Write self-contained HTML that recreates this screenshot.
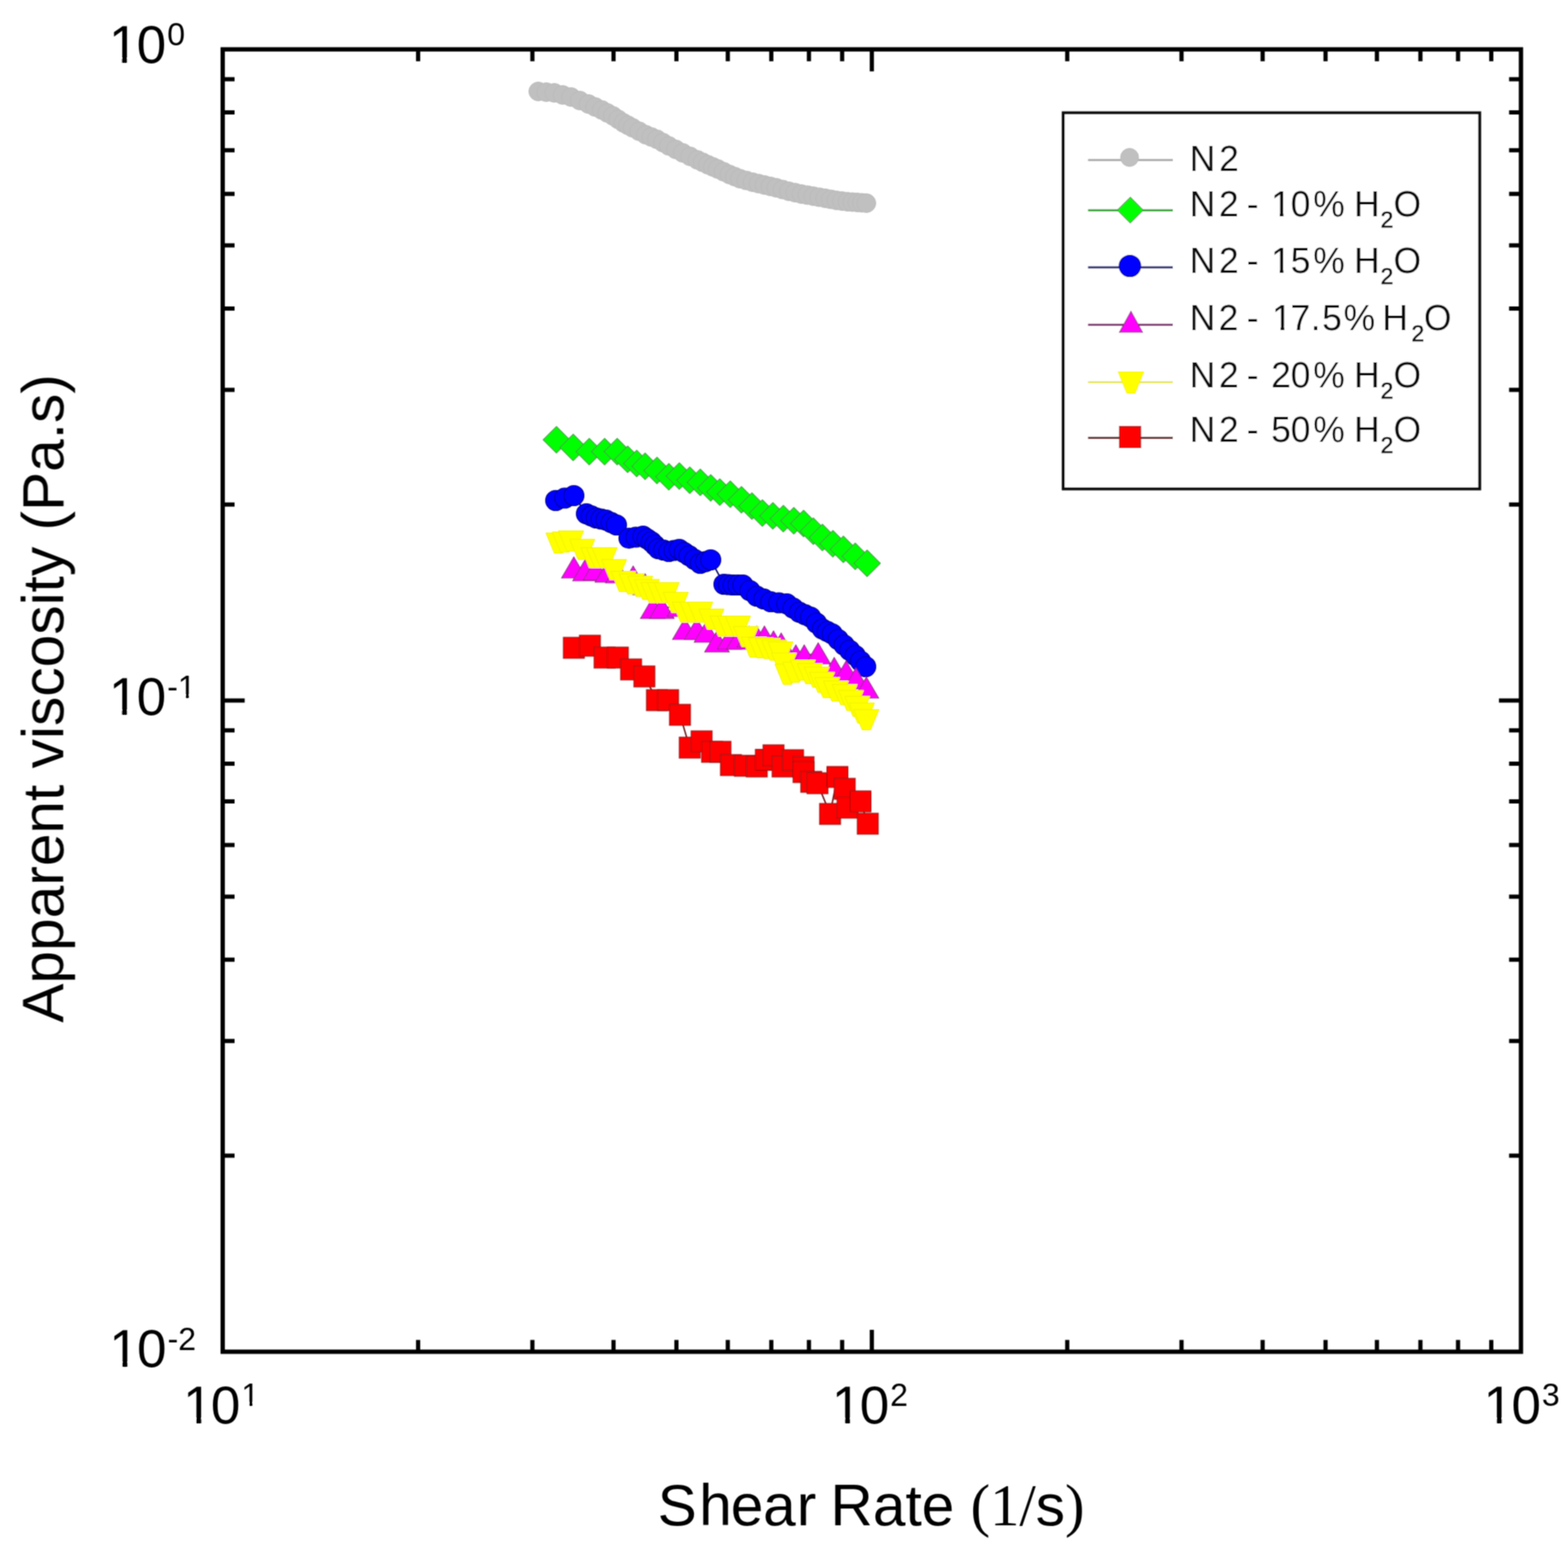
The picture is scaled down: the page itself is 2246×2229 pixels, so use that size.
<!DOCTYPE html>
<html><head><meta charset="utf-8"><title>Apparent viscosity vs Shear Rate</title>
<style>
html,body{margin:0;padding:0;background:#fff;}
body{width:2246px;height:2229px;overflow:hidden;}
svg{display:block;}
text{font-family:"Liberation Sans", Arial, Helvetica, sans-serif;fill:#000;}
.tk{font-size:76px;}
.lg{font-size:51px;fill:#111;}
.sub{font-size:33px;stroke:#111;stroke-width:0.7px;}
.ttl{font-size:84px;}
.serif{font-family:"Liberation Serif", "Times New Roman", serif;}
</style></head>
<body>
<svg width="2246" height="2229" viewBox="0 0 2246 2229" xmlns="http://www.w3.org/2000/svg">
<defs><filter id="soft" filterUnits="userSpaceOnUse" x="0" y="0" width="2246" height="2229"><feConvolveMatrix order="3" kernelMatrix="1 2 1 2 4 2 1 2 1" divisor="16" edgeMode="duplicate"/></filter></defs>
<rect width="2246" height="2229" fill="#fff"/>
<g filter="url(#soft)">
<g id="data">
<polyline points="771,131 782.5,132.0 794,133 806.0,136.0 818,139 830.5,144.0 843,149 852.5,153.2 862,157.5 870.0,161.8 878,166 885.5,171.0 893,176 899.5,179.5 906,183 915.5,188.0 925,193 933.0,196.2 941,199.5 949.5,204.2 958,209 968.0,214.0 978,219 988.5,224.0 999,229 1006.5,232.5 1014,236 1021.0,239.0 1028,242 1036.5,246.0 1045,250 1052.5,253.0 1060,256 1069.0,258.5 1078,261 1086.5,263.0 1095,265 1103.5,267.0 1112,269 1121.0,271.5 1130,274 1139.0,276.0 1148,278 1156.5,279.5 1165,281 1173.5,282.5 1182,284 1190.0,285.5 1198,287 1206.0,288.0 1214,289 1221.0,289.5 1228,290 1234.5,290.5 1241,291" fill="none" stroke="#b8b8b8" stroke-width="2"/>
<circle cx="771" cy="131" r="13.5" fill="#c0c0c0" stroke="#bababa" stroke-width="1"/>
<circle cx="782.5" cy="132.0" r="13.5" fill="#c0c0c0" stroke="#bababa" stroke-width="1"/>
<circle cx="794" cy="133" r="13.5" fill="#c0c0c0" stroke="#bababa" stroke-width="1"/>
<circle cx="806.0" cy="136.0" r="13.5" fill="#c0c0c0" stroke="#bababa" stroke-width="1"/>
<circle cx="818" cy="139" r="13.5" fill="#c0c0c0" stroke="#bababa" stroke-width="1"/>
<circle cx="830.5" cy="144.0" r="13.5" fill="#c0c0c0" stroke="#bababa" stroke-width="1"/>
<circle cx="843" cy="149" r="13.5" fill="#c0c0c0" stroke="#bababa" stroke-width="1"/>
<circle cx="852.5" cy="153.2" r="13.5" fill="#c0c0c0" stroke="#bababa" stroke-width="1"/>
<circle cx="862" cy="157.5" r="13.5" fill="#c0c0c0" stroke="#bababa" stroke-width="1"/>
<circle cx="870.0" cy="161.8" r="13.5" fill="#c0c0c0" stroke="#bababa" stroke-width="1"/>
<circle cx="878" cy="166" r="13.5" fill="#c0c0c0" stroke="#bababa" stroke-width="1"/>
<circle cx="885.5" cy="171.0" r="13.5" fill="#c0c0c0" stroke="#bababa" stroke-width="1"/>
<circle cx="893" cy="176" r="13.5" fill="#c0c0c0" stroke="#bababa" stroke-width="1"/>
<circle cx="899.5" cy="179.5" r="13.5" fill="#c0c0c0" stroke="#bababa" stroke-width="1"/>
<circle cx="906" cy="183" r="13.5" fill="#c0c0c0" stroke="#bababa" stroke-width="1"/>
<circle cx="915.5" cy="188.0" r="13.5" fill="#c0c0c0" stroke="#bababa" stroke-width="1"/>
<circle cx="925" cy="193" r="13.5" fill="#c0c0c0" stroke="#bababa" stroke-width="1"/>
<circle cx="933.0" cy="196.2" r="13.5" fill="#c0c0c0" stroke="#bababa" stroke-width="1"/>
<circle cx="941" cy="199.5" r="13.5" fill="#c0c0c0" stroke="#bababa" stroke-width="1"/>
<circle cx="949.5" cy="204.2" r="13.5" fill="#c0c0c0" stroke="#bababa" stroke-width="1"/>
<circle cx="958" cy="209" r="13.5" fill="#c0c0c0" stroke="#bababa" stroke-width="1"/>
<circle cx="968.0" cy="214.0" r="13.5" fill="#c0c0c0" stroke="#bababa" stroke-width="1"/>
<circle cx="978" cy="219" r="13.5" fill="#c0c0c0" stroke="#bababa" stroke-width="1"/>
<circle cx="988.5" cy="224.0" r="13.5" fill="#c0c0c0" stroke="#bababa" stroke-width="1"/>
<circle cx="999" cy="229" r="13.5" fill="#c0c0c0" stroke="#bababa" stroke-width="1"/>
<circle cx="1006.5" cy="232.5" r="13.5" fill="#c0c0c0" stroke="#bababa" stroke-width="1"/>
<circle cx="1014" cy="236" r="13.5" fill="#c0c0c0" stroke="#bababa" stroke-width="1"/>
<circle cx="1021.0" cy="239.0" r="13.5" fill="#c0c0c0" stroke="#bababa" stroke-width="1"/>
<circle cx="1028" cy="242" r="13.5" fill="#c0c0c0" stroke="#bababa" stroke-width="1"/>
<circle cx="1036.5" cy="246.0" r="13.5" fill="#c0c0c0" stroke="#bababa" stroke-width="1"/>
<circle cx="1045" cy="250" r="13.5" fill="#c0c0c0" stroke="#bababa" stroke-width="1"/>
<circle cx="1052.5" cy="253.0" r="13.5" fill="#c0c0c0" stroke="#bababa" stroke-width="1"/>
<circle cx="1060" cy="256" r="13.5" fill="#c0c0c0" stroke="#bababa" stroke-width="1"/>
<circle cx="1069.0" cy="258.5" r="13.5" fill="#c0c0c0" stroke="#bababa" stroke-width="1"/>
<circle cx="1078" cy="261" r="13.5" fill="#c0c0c0" stroke="#bababa" stroke-width="1"/>
<circle cx="1086.5" cy="263.0" r="13.5" fill="#c0c0c0" stroke="#bababa" stroke-width="1"/>
<circle cx="1095" cy="265" r="13.5" fill="#c0c0c0" stroke="#bababa" stroke-width="1"/>
<circle cx="1103.5" cy="267.0" r="13.5" fill="#c0c0c0" stroke="#bababa" stroke-width="1"/>
<circle cx="1112" cy="269" r="13.5" fill="#c0c0c0" stroke="#bababa" stroke-width="1"/>
<circle cx="1121.0" cy="271.5" r="13.5" fill="#c0c0c0" stroke="#bababa" stroke-width="1"/>
<circle cx="1130" cy="274" r="13.5" fill="#c0c0c0" stroke="#bababa" stroke-width="1"/>
<circle cx="1139.0" cy="276.0" r="13.5" fill="#c0c0c0" stroke="#bababa" stroke-width="1"/>
<circle cx="1148" cy="278" r="13.5" fill="#c0c0c0" stroke="#bababa" stroke-width="1"/>
<circle cx="1156.5" cy="279.5" r="13.5" fill="#c0c0c0" stroke="#bababa" stroke-width="1"/>
<circle cx="1165" cy="281" r="13.5" fill="#c0c0c0" stroke="#bababa" stroke-width="1"/>
<circle cx="1173.5" cy="282.5" r="13.5" fill="#c0c0c0" stroke="#bababa" stroke-width="1"/>
<circle cx="1182" cy="284" r="13.5" fill="#c0c0c0" stroke="#bababa" stroke-width="1"/>
<circle cx="1190.0" cy="285.5" r="13.5" fill="#c0c0c0" stroke="#bababa" stroke-width="1"/>
<circle cx="1198" cy="287" r="13.5" fill="#c0c0c0" stroke="#bababa" stroke-width="1"/>
<circle cx="1206.0" cy="288.0" r="13.5" fill="#c0c0c0" stroke="#bababa" stroke-width="1"/>
<circle cx="1214" cy="289" r="13.5" fill="#c0c0c0" stroke="#bababa" stroke-width="1"/>
<circle cx="1221.0" cy="289.5" r="13.5" fill="#c0c0c0" stroke="#bababa" stroke-width="1"/>
<circle cx="1228" cy="290" r="13.5" fill="#c0c0c0" stroke="#bababa" stroke-width="1"/>
<circle cx="1234.5" cy="290.5" r="13.5" fill="#c0c0c0" stroke="#bababa" stroke-width="1"/>
<circle cx="1241" cy="291" r="13.5" fill="#c0c0c0" stroke="#bababa" stroke-width="1"/>
<polyline points="797,630 821,641 844,647 866,647 884,647 899,658 912,664 924,668 941,674 958,683 973,682 988,688 1003,691 1018,699 1031,705 1046,708 1062,716 1077,725 1092,735 1107,739 1122,743 1137,746 1151,750 1165,761 1178,770 1193,779 1208,787 1225,797 1242,807" fill="none" stroke="#2e9a2e" stroke-width="2"/>
<path d="M797 611L816 630L797 649L778 630Z" fill="#00ff00" stroke="#3c9a3c" stroke-width="1.2"/>
<path d="M821 622L840 641L821 660L802 641Z" fill="#00ff00" stroke="#3c9a3c" stroke-width="1.2"/>
<path d="M844 628L863 647L844 666L825 647Z" fill="#00ff00" stroke="#3c9a3c" stroke-width="1.2"/>
<path d="M866 628L885 647L866 666L847 647Z" fill="#00ff00" stroke="#3c9a3c" stroke-width="1.2"/>
<path d="M884 628L903 647L884 666L865 647Z" fill="#00ff00" stroke="#3c9a3c" stroke-width="1.2"/>
<path d="M899 639L918 658L899 677L880 658Z" fill="#00ff00" stroke="#3c9a3c" stroke-width="1.2"/>
<path d="M912 645L931 664L912 683L893 664Z" fill="#00ff00" stroke="#3c9a3c" stroke-width="1.2"/>
<path d="M924 649L943 668L924 687L905 668Z" fill="#00ff00" stroke="#3c9a3c" stroke-width="1.2"/>
<path d="M941 655L960 674L941 693L922 674Z" fill="#00ff00" stroke="#3c9a3c" stroke-width="1.2"/>
<path d="M958 664L977 683L958 702L939 683Z" fill="#00ff00" stroke="#3c9a3c" stroke-width="1.2"/>
<path d="M973 663L992 682L973 701L954 682Z" fill="#00ff00" stroke="#3c9a3c" stroke-width="1.2"/>
<path d="M988 669L1007 688L988 707L969 688Z" fill="#00ff00" stroke="#3c9a3c" stroke-width="1.2"/>
<path d="M1003 672L1022 691L1003 710L984 691Z" fill="#00ff00" stroke="#3c9a3c" stroke-width="1.2"/>
<path d="M1018 680L1037 699L1018 718L999 699Z" fill="#00ff00" stroke="#3c9a3c" stroke-width="1.2"/>
<path d="M1031 686L1050 705L1031 724L1012 705Z" fill="#00ff00" stroke="#3c9a3c" stroke-width="1.2"/>
<path d="M1046 689L1065 708L1046 727L1027 708Z" fill="#00ff00" stroke="#3c9a3c" stroke-width="1.2"/>
<path d="M1062 697L1081 716L1062 735L1043 716Z" fill="#00ff00" stroke="#3c9a3c" stroke-width="1.2"/>
<path d="M1077 706L1096 725L1077 744L1058 725Z" fill="#00ff00" stroke="#3c9a3c" stroke-width="1.2"/>
<path d="M1092 716L1111 735L1092 754L1073 735Z" fill="#00ff00" stroke="#3c9a3c" stroke-width="1.2"/>
<path d="M1107 720L1126 739L1107 758L1088 739Z" fill="#00ff00" stroke="#3c9a3c" stroke-width="1.2"/>
<path d="M1122 724L1141 743L1122 762L1103 743Z" fill="#00ff00" stroke="#3c9a3c" stroke-width="1.2"/>
<path d="M1137 727L1156 746L1137 765L1118 746Z" fill="#00ff00" stroke="#3c9a3c" stroke-width="1.2"/>
<path d="M1151 731L1170 750L1151 769L1132 750Z" fill="#00ff00" stroke="#3c9a3c" stroke-width="1.2"/>
<path d="M1165 742L1184 761L1165 780L1146 761Z" fill="#00ff00" stroke="#3c9a3c" stroke-width="1.2"/>
<path d="M1178 751L1197 770L1178 789L1159 770Z" fill="#00ff00" stroke="#3c9a3c" stroke-width="1.2"/>
<path d="M1193 760L1212 779L1193 798L1174 779Z" fill="#00ff00" stroke="#3c9a3c" stroke-width="1.2"/>
<path d="M1208 768L1227 787L1208 806L1189 787Z" fill="#00ff00" stroke="#3c9a3c" stroke-width="1.2"/>
<path d="M1225 778L1244 797L1225 816L1206 797Z" fill="#00ff00" stroke="#3c9a3c" stroke-width="1.2"/>
<path d="M1242 788L1261 807L1242 826L1223 807Z" fill="#00ff00" stroke="#3c9a3c" stroke-width="1.2"/>
<polyline points="796,717 809.0,713.5 822,710 840,736 847.0,739.0 854,742 861.0,743.5 868,745 875.5,748.5 883,752 901,771 911.0,769.5 921,768 927.0,772.0 933,776 938.0,781.0 943,786 950.5,788.0 958,790 965.5,788.5 973,787 980.0,791.5 987,796 995.0,801.5 1003,807 1010.5,804.5 1018,802 1037,837 1043.5,837.5 1050,838 1057.0,838.0 1064,838 1074.0,846.0 1084,854 1094.0,858.0 1104,862 1115.5,863.5 1127,865 1136.0,871.0 1145,877 1153.0,880.5 1161,884 1169.5,892.5 1178,901 1185.0,904.5 1192,908 1200.5,916.0 1209,924 1217.0,931.5 1225,939 1232.5,947.0 1240,955" fill="none" stroke="#00006a" stroke-width="2"/>
<circle cx="796" cy="717" r="14.5" fill="#0000ff" stroke="#000080" stroke-width="1.2"/>
<circle cx="809.0" cy="713.5" r="14.5" fill="#0000ff" stroke="#000080" stroke-width="1.2"/>
<circle cx="822" cy="710" r="14.5" fill="#0000ff" stroke="#000080" stroke-width="1.2"/>
<circle cx="840" cy="736" r="14.5" fill="#0000ff" stroke="#000080" stroke-width="1.2"/>
<circle cx="847.0" cy="739.0" r="14.5" fill="#0000ff" stroke="#000080" stroke-width="1.2"/>
<circle cx="854" cy="742" r="14.5" fill="#0000ff" stroke="#000080" stroke-width="1.2"/>
<circle cx="861.0" cy="743.5" r="14.5" fill="#0000ff" stroke="#000080" stroke-width="1.2"/>
<circle cx="868" cy="745" r="14.5" fill="#0000ff" stroke="#000080" stroke-width="1.2"/>
<circle cx="875.5" cy="748.5" r="14.5" fill="#0000ff" stroke="#000080" stroke-width="1.2"/>
<circle cx="883" cy="752" r="14.5" fill="#0000ff" stroke="#000080" stroke-width="1.2"/>
<circle cx="901" cy="771" r="14.5" fill="#0000ff" stroke="#000080" stroke-width="1.2"/>
<circle cx="911.0" cy="769.5" r="14.5" fill="#0000ff" stroke="#000080" stroke-width="1.2"/>
<circle cx="921" cy="768" r="14.5" fill="#0000ff" stroke="#000080" stroke-width="1.2"/>
<circle cx="927.0" cy="772.0" r="14.5" fill="#0000ff" stroke="#000080" stroke-width="1.2"/>
<circle cx="933" cy="776" r="14.5" fill="#0000ff" stroke="#000080" stroke-width="1.2"/>
<circle cx="938.0" cy="781.0" r="14.5" fill="#0000ff" stroke="#000080" stroke-width="1.2"/>
<circle cx="943" cy="786" r="14.5" fill="#0000ff" stroke="#000080" stroke-width="1.2"/>
<circle cx="950.5" cy="788.0" r="14.5" fill="#0000ff" stroke="#000080" stroke-width="1.2"/>
<circle cx="958" cy="790" r="14.5" fill="#0000ff" stroke="#000080" stroke-width="1.2"/>
<circle cx="965.5" cy="788.5" r="14.5" fill="#0000ff" stroke="#000080" stroke-width="1.2"/>
<circle cx="973" cy="787" r="14.5" fill="#0000ff" stroke="#000080" stroke-width="1.2"/>
<circle cx="980.0" cy="791.5" r="14.5" fill="#0000ff" stroke="#000080" stroke-width="1.2"/>
<circle cx="987" cy="796" r="14.5" fill="#0000ff" stroke="#000080" stroke-width="1.2"/>
<circle cx="995.0" cy="801.5" r="14.5" fill="#0000ff" stroke="#000080" stroke-width="1.2"/>
<circle cx="1003" cy="807" r="14.5" fill="#0000ff" stroke="#000080" stroke-width="1.2"/>
<circle cx="1010.5" cy="804.5" r="14.5" fill="#0000ff" stroke="#000080" stroke-width="1.2"/>
<circle cx="1018" cy="802" r="14.5" fill="#0000ff" stroke="#000080" stroke-width="1.2"/>
<circle cx="1037" cy="837" r="14.5" fill="#0000ff" stroke="#000080" stroke-width="1.2"/>
<circle cx="1043.5" cy="837.5" r="14.5" fill="#0000ff" stroke="#000080" stroke-width="1.2"/>
<circle cx="1050" cy="838" r="14.5" fill="#0000ff" stroke="#000080" stroke-width="1.2"/>
<circle cx="1057.0" cy="838.0" r="14.5" fill="#0000ff" stroke="#000080" stroke-width="1.2"/>
<circle cx="1064" cy="838" r="14.5" fill="#0000ff" stroke="#000080" stroke-width="1.2"/>
<circle cx="1074.0" cy="846.0" r="14.5" fill="#0000ff" stroke="#000080" stroke-width="1.2"/>
<circle cx="1084" cy="854" r="14.5" fill="#0000ff" stroke="#000080" stroke-width="1.2"/>
<circle cx="1094.0" cy="858.0" r="14.5" fill="#0000ff" stroke="#000080" stroke-width="1.2"/>
<circle cx="1104" cy="862" r="14.5" fill="#0000ff" stroke="#000080" stroke-width="1.2"/>
<circle cx="1115.5" cy="863.5" r="14.5" fill="#0000ff" stroke="#000080" stroke-width="1.2"/>
<circle cx="1127" cy="865" r="14.5" fill="#0000ff" stroke="#000080" stroke-width="1.2"/>
<circle cx="1136.0" cy="871.0" r="14.5" fill="#0000ff" stroke="#000080" stroke-width="1.2"/>
<circle cx="1145" cy="877" r="14.5" fill="#0000ff" stroke="#000080" stroke-width="1.2"/>
<circle cx="1153.0" cy="880.5" r="14.5" fill="#0000ff" stroke="#000080" stroke-width="1.2"/>
<circle cx="1161" cy="884" r="14.5" fill="#0000ff" stroke="#000080" stroke-width="1.2"/>
<circle cx="1169.5" cy="892.5" r="14.5" fill="#0000ff" stroke="#000080" stroke-width="1.2"/>
<circle cx="1178" cy="901" r="14.5" fill="#0000ff" stroke="#000080" stroke-width="1.2"/>
<circle cx="1185.0" cy="904.5" r="14.5" fill="#0000ff" stroke="#000080" stroke-width="1.2"/>
<circle cx="1192" cy="908" r="14.5" fill="#0000ff" stroke="#000080" stroke-width="1.2"/>
<circle cx="1200.5" cy="916.0" r="14.5" fill="#0000ff" stroke="#000080" stroke-width="1.2"/>
<circle cx="1209" cy="924" r="14.5" fill="#0000ff" stroke="#000080" stroke-width="1.2"/>
<circle cx="1217.0" cy="931.5" r="14.5" fill="#0000ff" stroke="#000080" stroke-width="1.2"/>
<circle cx="1225" cy="939" r="14.5" fill="#0000ff" stroke="#000080" stroke-width="1.2"/>
<circle cx="1232.5" cy="947.0" r="14.5" fill="#0000ff" stroke="#000080" stroke-width="1.2"/>
<circle cx="1240" cy="955" r="14.5" fill="#0000ff" stroke="#000080" stroke-width="1.2"/>
<polyline points="822,813 838,817 853,816 870,819 885,820 907,826 924,837 935,871 948,871 973,868 981,901 998,901 1012,905 1027,919 1045,915 1058,915 1073,912 1084,912 1095,912 1108,919 1119,922 1140,939 1152,939 1172,936 1195,957 1212,962 1226,972 1241,985" fill="none" stroke="#7a2a6a" stroke-width="2"/>
<path d="M822 798.0L839.5 828.0L804.5 828.0Z" fill="#ff00ff" stroke="#8a2a7a" stroke-width="1.2"/>
<path d="M838 802.0L855.5 832.0L820.5 832.0Z" fill="#ff00ff" stroke="#8a2a7a" stroke-width="1.2"/>
<path d="M853 801.0L870.5 831.0L835.5 831.0Z" fill="#ff00ff" stroke="#8a2a7a" stroke-width="1.2"/>
<path d="M870 804.0L887.5 834.0L852.5 834.0Z" fill="#ff00ff" stroke="#8a2a7a" stroke-width="1.2"/>
<path d="M885 805.0L902.5 835.0L867.5 835.0Z" fill="#ff00ff" stroke="#8a2a7a" stroke-width="1.2"/>
<path d="M907 811.0L924.5 841.0L889.5 841.0Z" fill="#ff00ff" stroke="#8a2a7a" stroke-width="1.2"/>
<path d="M924 822.0L941.5 852.0L906.5 852.0Z" fill="#ff00ff" stroke="#8a2a7a" stroke-width="1.2"/>
<path d="M935 856.0L952.5 886.0L917.5 886.0Z" fill="#ff00ff" stroke="#8a2a7a" stroke-width="1.2"/>
<path d="M948 856.0L965.5 886.0L930.5 886.0Z" fill="#ff00ff" stroke="#8a2a7a" stroke-width="1.2"/>
<path d="M973 853.0L990.5 883.0L955.5 883.0Z" fill="#ff00ff" stroke="#8a2a7a" stroke-width="1.2"/>
<path d="M981 886.0L998.5 916.0L963.5 916.0Z" fill="#ff00ff" stroke="#8a2a7a" stroke-width="1.2"/>
<path d="M998 886.0L1015.5 916.0L980.5 916.0Z" fill="#ff00ff" stroke="#8a2a7a" stroke-width="1.2"/>
<path d="M1012 890.0L1029.5 920.0L994.5 920.0Z" fill="#ff00ff" stroke="#8a2a7a" stroke-width="1.2"/>
<path d="M1027 904.0L1044.5 934.0L1009.5 934.0Z" fill="#ff00ff" stroke="#8a2a7a" stroke-width="1.2"/>
<path d="M1045 900.0L1062.5 930.0L1027.5 930.0Z" fill="#ff00ff" stroke="#8a2a7a" stroke-width="1.2"/>
<path d="M1058 900.0L1075.5 930.0L1040.5 930.0Z" fill="#ff00ff" stroke="#8a2a7a" stroke-width="1.2"/>
<path d="M1073 897.0L1090.5 927.0L1055.5 927.0Z" fill="#ff00ff" stroke="#8a2a7a" stroke-width="1.2"/>
<path d="M1084 897.0L1101.5 927.0L1066.5 927.0Z" fill="#ff00ff" stroke="#8a2a7a" stroke-width="1.2"/>
<path d="M1095 897.0L1112.5 927.0L1077.5 927.0Z" fill="#ff00ff" stroke="#8a2a7a" stroke-width="1.2"/>
<path d="M1108 904.0L1125.5 934.0L1090.5 934.0Z" fill="#ff00ff" stroke="#8a2a7a" stroke-width="1.2"/>
<path d="M1119 907.0L1136.5 937.0L1101.5 937.0Z" fill="#ff00ff" stroke="#8a2a7a" stroke-width="1.2"/>
<path d="M1140 924.0L1157.5 954.0L1122.5 954.0Z" fill="#ff00ff" stroke="#8a2a7a" stroke-width="1.2"/>
<path d="M1152 924.0L1169.5 954.0L1134.5 954.0Z" fill="#ff00ff" stroke="#8a2a7a" stroke-width="1.2"/>
<path d="M1172 921.0L1189.5 951.0L1154.5 951.0Z" fill="#ff00ff" stroke="#8a2a7a" stroke-width="1.2"/>
<path d="M1195 942.0L1212.5 972.0L1177.5 972.0Z" fill="#ff00ff" stroke="#8a2a7a" stroke-width="1.2"/>
<path d="M1212 947.0L1229.5 977.0L1194.5 977.0Z" fill="#ff00ff" stroke="#8a2a7a" stroke-width="1.2"/>
<path d="M1226 957.0L1243.5 987.0L1208.5 987.0Z" fill="#ff00ff" stroke="#8a2a7a" stroke-width="1.2"/>
<path d="M1241 970.0L1258.5 1000.0L1223.5 1000.0Z" fill="#ff00ff" stroke="#8a2a7a" stroke-width="1.2"/>
<polyline points="800,778 809.0,776.5 818,775 834.0,787.0 850,799 858.0,799.0 866,799 879.5,816.0 893,833 905.0,836.5 917,840 926.5,844.5 936,849 945.5,849.0 955,849 968.0,863.0 981,877 992.0,877.0 1003,877 1019.0,887.0 1035,897 1046.0,897.0 1057,897 1068.5,912.0 1080,927 1090.0,928.0 1100,929 1109.0,931.5 1118,934 1123.0,950.0 1128,966 1139.0,963.0 1150,960 1160.0,965.0 1170,970 1177.5,977.5 1185,985 1197.5,990.0 1210,995 1219.0,1003.5 1228,1012 1234.5,1021.5 1241,1031" fill="none" stroke="#d8d800" stroke-width="2"/>
<path d="M782.0 763.5L818.0 763.5L806.0 792.5L794.0 792.5Z" fill="#ffff00" stroke="#f0f000" stroke-width="1"/>
<path d="M791.0 762.0L827.0 762.0L815.0 791.0L803.0 791.0Z" fill="#ffff00" stroke="#f0f000" stroke-width="1"/>
<path d="M800.0 760.5L836.0 760.5L824.0 789.5L812.0 789.5Z" fill="#ffff00" stroke="#f0f000" stroke-width="1"/>
<path d="M816.0 772.5L852.0 772.5L840.0 801.5L828.0 801.5Z" fill="#ffff00" stroke="#f0f000" stroke-width="1"/>
<path d="M832.0 784.5L868.0 784.5L856.0 813.5L844.0 813.5Z" fill="#ffff00" stroke="#f0f000" stroke-width="1"/>
<path d="M840.0 784.5L876.0 784.5L864.0 813.5L852.0 813.5Z" fill="#ffff00" stroke="#f0f000" stroke-width="1"/>
<path d="M848.0 784.5L884.0 784.5L872.0 813.5L860.0 813.5Z" fill="#ffff00" stroke="#f0f000" stroke-width="1"/>
<path d="M861.5 801.5L897.5 801.5L885.5 830.5L873.5 830.5Z" fill="#ffff00" stroke="#f0f000" stroke-width="1"/>
<path d="M875.0 818.5L911.0 818.5L899.0 847.5L887.0 847.5Z" fill="#ffff00" stroke="#f0f000" stroke-width="1"/>
<path d="M887.0 822.0L923.0 822.0L911.0 851.0L899.0 851.0Z" fill="#ffff00" stroke="#f0f000" stroke-width="1"/>
<path d="M899.0 825.5L935.0 825.5L923.0 854.5L911.0 854.5Z" fill="#ffff00" stroke="#f0f000" stroke-width="1"/>
<path d="M908.5 830.0L944.5 830.0L932.5 859.0L920.5 859.0Z" fill="#ffff00" stroke="#f0f000" stroke-width="1"/>
<path d="M918.0 834.5L954.0 834.5L942.0 863.5L930.0 863.5Z" fill="#ffff00" stroke="#f0f000" stroke-width="1"/>
<path d="M927.5 834.5L963.5 834.5L951.5 863.5L939.5 863.5Z" fill="#ffff00" stroke="#f0f000" stroke-width="1"/>
<path d="M937.0 834.5L973.0 834.5L961.0 863.5L949.0 863.5Z" fill="#ffff00" stroke="#f0f000" stroke-width="1"/>
<path d="M950.0 848.5L986.0 848.5L974.0 877.5L962.0 877.5Z" fill="#ffff00" stroke="#f0f000" stroke-width="1"/>
<path d="M963.0 862.5L999.0 862.5L987.0 891.5L975.0 891.5Z" fill="#ffff00" stroke="#f0f000" stroke-width="1"/>
<path d="M974.0 862.5L1010.0 862.5L998.0 891.5L986.0 891.5Z" fill="#ffff00" stroke="#f0f000" stroke-width="1"/>
<path d="M985.0 862.5L1021.0 862.5L1009.0 891.5L997.0 891.5Z" fill="#ffff00" stroke="#f0f000" stroke-width="1"/>
<path d="M1001.0 872.5L1037.0 872.5L1025.0 901.5L1013.0 901.5Z" fill="#ffff00" stroke="#f0f000" stroke-width="1"/>
<path d="M1017.0 882.5L1053.0 882.5L1041.0 911.5L1029.0 911.5Z" fill="#ffff00" stroke="#f0f000" stroke-width="1"/>
<path d="M1028.0 882.5L1064.0 882.5L1052.0 911.5L1040.0 911.5Z" fill="#ffff00" stroke="#f0f000" stroke-width="1"/>
<path d="M1039.0 882.5L1075.0 882.5L1063.0 911.5L1051.0 911.5Z" fill="#ffff00" stroke="#f0f000" stroke-width="1"/>
<path d="M1050.5 897.5L1086.5 897.5L1074.5 926.5L1062.5 926.5Z" fill="#ffff00" stroke="#f0f000" stroke-width="1"/>
<path d="M1062.0 912.5L1098.0 912.5L1086.0 941.5L1074.0 941.5Z" fill="#ffff00" stroke="#f0f000" stroke-width="1"/>
<path d="M1072.0 913.5L1108.0 913.5L1096.0 942.5L1084.0 942.5Z" fill="#ffff00" stroke="#f0f000" stroke-width="1"/>
<path d="M1082.0 914.5L1118.0 914.5L1106.0 943.5L1094.0 943.5Z" fill="#ffff00" stroke="#f0f000" stroke-width="1"/>
<path d="M1091.0 917.0L1127.0 917.0L1115.0 946.0L1103.0 946.0Z" fill="#ffff00" stroke="#f0f000" stroke-width="1"/>
<path d="M1100.0 919.5L1136.0 919.5L1124.0 948.5L1112.0 948.5Z" fill="#ffff00" stroke="#f0f000" stroke-width="1"/>
<path d="M1105.0 935.5L1141.0 935.5L1129.0 964.5L1117.0 964.5Z" fill="#ffff00" stroke="#f0f000" stroke-width="1"/>
<path d="M1110.0 951.5L1146.0 951.5L1134.0 980.5L1122.0 980.5Z" fill="#ffff00" stroke="#f0f000" stroke-width="1"/>
<path d="M1121.0 948.5L1157.0 948.5L1145.0 977.5L1133.0 977.5Z" fill="#ffff00" stroke="#f0f000" stroke-width="1"/>
<path d="M1132.0 945.5L1168.0 945.5L1156.0 974.5L1144.0 974.5Z" fill="#ffff00" stroke="#f0f000" stroke-width="1"/>
<path d="M1142.0 950.5L1178.0 950.5L1166.0 979.5L1154.0 979.5Z" fill="#ffff00" stroke="#f0f000" stroke-width="1"/>
<path d="M1152.0 955.5L1188.0 955.5L1176.0 984.5L1164.0 984.5Z" fill="#ffff00" stroke="#f0f000" stroke-width="1"/>
<path d="M1159.5 963.0L1195.5 963.0L1183.5 992.0L1171.5 992.0Z" fill="#ffff00" stroke="#f0f000" stroke-width="1"/>
<path d="M1167.0 970.5L1203.0 970.5L1191.0 999.5L1179.0 999.5Z" fill="#ffff00" stroke="#f0f000" stroke-width="1"/>
<path d="M1179.5 975.5L1215.5 975.5L1203.5 1004.5L1191.5 1004.5Z" fill="#ffff00" stroke="#f0f000" stroke-width="1"/>
<path d="M1192.0 980.5L1228.0 980.5L1216.0 1009.5L1204.0 1009.5Z" fill="#ffff00" stroke="#f0f000" stroke-width="1"/>
<path d="M1201.0 989.0L1237.0 989.0L1225.0 1018.0L1213.0 1018.0Z" fill="#ffff00" stroke="#f0f000" stroke-width="1"/>
<path d="M1210.0 997.5L1246.0 997.5L1234.0 1026.5L1222.0 1026.5Z" fill="#ffff00" stroke="#f0f000" stroke-width="1"/>
<path d="M1216.5 1007.0L1252.5 1007.0L1240.5 1036.0L1228.5 1036.0Z" fill="#ffff00" stroke="#f0f000" stroke-width="1"/>
<path d="M1223.0 1016.5L1259.0 1016.5L1247.0 1045.5L1235.0 1045.5Z" fill="#ffff00" stroke="#f0f000" stroke-width="1"/>
<polyline points="822,928 845,925 866,942 885,942 904,959 923,969 941,1003 957,1003 974,1024 988,1071 1005,1062 1020,1077 1032,1077 1047,1096 1067,1097 1084,1098 1097,1088.5 1108,1082 1121,1098 1136,1089 1151,1099 1151,1106 1162,1120 1171,1122 1189,1166 1199.5,1113 1210,1130 1214,1157 1232.5,1148 1243,1180" fill="none" stroke="#6a1010" stroke-width="2"/>
<rect x="807.0" y="913.0" width="30" height="30" fill="#ff0000" stroke="#9a1010" stroke-width="1.2"/>
<rect x="830.0" y="910.0" width="30" height="30" fill="#ff0000" stroke="#9a1010" stroke-width="1.2"/>
<rect x="851.0" y="927.0" width="30" height="30" fill="#ff0000" stroke="#9a1010" stroke-width="1.2"/>
<rect x="870.0" y="927.0" width="30" height="30" fill="#ff0000" stroke="#9a1010" stroke-width="1.2"/>
<rect x="889.0" y="944.0" width="30" height="30" fill="#ff0000" stroke="#9a1010" stroke-width="1.2"/>
<rect x="908.0" y="954.0" width="30" height="30" fill="#ff0000" stroke="#9a1010" stroke-width="1.2"/>
<rect x="926.0" y="988.0" width="30" height="30" fill="#ff0000" stroke="#9a1010" stroke-width="1.2"/>
<rect x="942.0" y="988.0" width="30" height="30" fill="#ff0000" stroke="#9a1010" stroke-width="1.2"/>
<rect x="959.0" y="1009.0" width="30" height="30" fill="#ff0000" stroke="#9a1010" stroke-width="1.2"/>
<rect x="973.0" y="1056.0" width="30" height="30" fill="#ff0000" stroke="#9a1010" stroke-width="1.2"/>
<rect x="990.0" y="1047.0" width="30" height="30" fill="#ff0000" stroke="#9a1010" stroke-width="1.2"/>
<rect x="1005.0" y="1062.0" width="30" height="30" fill="#ff0000" stroke="#9a1010" stroke-width="1.2"/>
<rect x="1017.0" y="1062.0" width="30" height="30" fill="#ff0000" stroke="#9a1010" stroke-width="1.2"/>
<rect x="1032.0" y="1081.0" width="30" height="30" fill="#ff0000" stroke="#9a1010" stroke-width="1.2"/>
<rect x="1052.0" y="1082.0" width="30" height="30" fill="#ff0000" stroke="#9a1010" stroke-width="1.2"/>
<rect x="1069.0" y="1083.0" width="30" height="30" fill="#ff0000" stroke="#9a1010" stroke-width="1.2"/>
<rect x="1082.0" y="1073.5" width="30" height="30" fill="#ff0000" stroke="#9a1010" stroke-width="1.2"/>
<rect x="1093.0" y="1067.0" width="30" height="30" fill="#ff0000" stroke="#9a1010" stroke-width="1.2"/>
<rect x="1106.0" y="1083.0" width="30" height="30" fill="#ff0000" stroke="#9a1010" stroke-width="1.2"/>
<rect x="1121.0" y="1074.0" width="30" height="30" fill="#ff0000" stroke="#9a1010" stroke-width="1.2"/>
<rect x="1136.0" y="1084.0" width="30" height="30" fill="#ff0000" stroke="#9a1010" stroke-width="1.2"/>
<rect x="1136.0" y="1091.0" width="30" height="30" fill="#ff0000" stroke="#9a1010" stroke-width="1.2"/>
<rect x="1147.0" y="1105.0" width="30" height="30" fill="#ff0000" stroke="#9a1010" stroke-width="1.2"/>
<rect x="1156.0" y="1107.0" width="30" height="30" fill="#ff0000" stroke="#9a1010" stroke-width="1.2"/>
<rect x="1174.0" y="1151.0" width="30" height="30" fill="#ff0000" stroke="#9a1010" stroke-width="1.2"/>
<rect x="1184.5" y="1098.0" width="30" height="30" fill="#ff0000" stroke="#9a1010" stroke-width="1.2"/>
<rect x="1195.0" y="1115.0" width="30" height="30" fill="#ff0000" stroke="#9a1010" stroke-width="1.2"/>
<rect x="1199.0" y="1142.0" width="30" height="30" fill="#ff0000" stroke="#9a1010" stroke-width="1.2"/>
<rect x="1217.5" y="1133.0" width="30" height="30" fill="#ff0000" stroke="#9a1010" stroke-width="1.2"/>
<rect x="1228.0" y="1165.0" width="30" height="30" fill="#ff0000" stroke="#9a1010" stroke-width="1.2"/>
</g>
<g id="legend">
<rect x="1523" y="161.6" width="596.5" height="538.6999999999999" fill="#ffffff" stroke="#111" stroke-width="4.2"/>
<line x1="1558.5" y1="229.2" x2="1680" y2="229.2" stroke="#a8a8a8" stroke-width="3"/>
<circle cx="1618" cy="225.5" r="13" fill="#c0c0c0" stroke="#bababa" stroke-width="1"/>
<text y="245" class="lg"><tspan x="1704.1 1746.3">N2</tspan></text>
<line x1="1558.5" y1="301.2" x2="1680" y2="301.2" stroke="#2aa02a" stroke-width="3"/>
<path d="M1619 282.5L1637.5 301L1619 319.5L1600.5 301Z" fill="#00ff00" stroke="#3c9a3c" stroke-width="1.2"/>
<text y="309.5" class="lg"><tspan x="1704.1 1746.1 1774.5 1785.7 1802.7 1820.7 1848.7 1881.0 1926.4 1939.5">N2 - 10% H</tspan><tspan x="1977.5" dy="16" class="sub">2</tspan><tspan x="1996" dy="-16">O</tspan></text>
<line x1="1558.5" y1="383" x2="1680" y2="383" stroke="#1a1a70" stroke-width="3"/>
<circle cx="1618.5" cy="381" r="15.5" fill="#0000ff" stroke="#000080" stroke-width="1.2"/>
<text y="391" class="lg"><tspan x="1704.1 1746.1 1774.5 1785.7 1802.7 1820.7 1848.7 1881.0 1926.4 1939.5">N2 - 15% H</tspan><tspan x="1977.5" dy="16" class="sub">2</tspan><tspan x="1996" dy="-16">O</tspan></text>
<line x1="1558.5" y1="465.2" x2="1680" y2="465.2" stroke="#7a2a6a" stroke-width="3"/>
<path d="M1620 446.0L1636.5 476.0L1603.5 476.0Z" fill="#ff00ff" stroke="#8a2a7a" stroke-width="1.2"/>
<text y="472.5" class="lg"><tspan x="1704.1 1745.5 1774.5 1785.7 1802.7 1821.9 1848.5 1877.5 1893.8 1924.4 1966.8 1980.1">N2 - 17.5% H</tspan><tspan x="2021.7" dy="16" class="sub">2</tspan><tspan x="2039.6" dy="-16">O</tspan></text>
<line x1="1558.5" y1="547.6" x2="1680" y2="547.6" stroke="#e8e860" stroke-width="3"/>
<path d="M1601.5 532.5L1638.5 532.5L1626.0 563.5L1614.0 563.5Z" fill="#ffff00" stroke="#f0f000" stroke-width="1"/>
<text y="555" class="lg"><tspan x="1704.1 1746.1 1774.5 1785.7 1802.7 1820.7 1848.7 1881.0 1926.4 1939.5">N2 - 20% H</tspan><tspan x="1977.5" dy="16" class="sub">2</tspan><tspan x="1996" dy="-16">O</tspan></text>
<line x1="1558.5" y1="627.3" x2="1680" y2="627.3" stroke="#5a1a1a" stroke-width="3"/>
<rect x="1603.45" y="610.75" width="30.5" height="30.5" fill="#ff0000" stroke="#9a1010" stroke-width="1.2"/>
<text y="632.5" class="lg"><tspan x="1704.1 1746.1 1774.5 1785.7 1802.7 1820.7 1848.7 1881.0 1926.4 1939.5">N2 - 50% H</tspan><tspan x="1977.5" dy="16" class="sub">2</tspan><tspan x="1996" dy="-16">O</tspan></text>
</g>
<g id="axes" stroke="#000" fill="none" stroke-width="6.2">
<rect x="319.0" y="70.7" width="1859.6" height="1865.7" stroke-linejoin="miter"/>
<path d="M598.9 1936.4V1919.4M598.9 70.7V87.7M762.6 1936.4V1919.4M762.6 70.7V87.7M878.8 1936.4V1919.4M878.8 70.7V87.7M968.9 1936.4V1919.4M968.9 70.7V87.7M1042.5 1936.4V1919.4M1042.5 70.7V87.7M1104.8 1936.4V1919.4M1104.8 70.7V87.7M1158.7 1936.4V1919.4M1158.7 70.7V87.7M1206.3 1936.4V1919.4M1206.3 70.7V87.7M1248.8 1936.4V1904.9M1248.8 70.7V102.2M1528.7 1936.4V1919.4M1528.7 70.7V87.7M1692.4 1936.4V1919.4M1692.4 70.7V87.7M1808.6 1936.4V1919.4M1808.6 70.7V87.7M1898.7 1936.4V1919.4M1898.7 70.7V87.7M1972.3 1936.4V1919.4M1972.3 70.7V87.7M2034.6 1936.4V1919.4M2034.6 70.7V87.7M2088.5 1936.4V1919.4M2088.5 70.7V87.7M2136.1 1936.4V1919.4M2136.1 70.7V87.7M319.0 1655.6H336.0M2178.6 1655.6H2161.6M319.0 1491.3H336.0M2178.6 1491.3H2161.6M319.0 1374.8H336.0M2178.6 1374.8H2161.6M319.0 1284.4H336.0M2178.6 1284.4H2161.6M319.0 1210.5H336.0M2178.6 1210.5H2161.6M319.0 1148.1H336.0M2178.6 1148.1H2161.6M319.0 1094.0H336.0M2178.6 1094.0H2161.6M319.0 1046.2H336.0M2178.6 1046.2H2161.6M319.0 1003.6H350.5M2178.6 1003.6H2147.1M319.0 722.7H336.0M2178.6 722.7H2161.6M319.0 558.5H336.0M2178.6 558.5H2161.6M319.0 441.9H336.0M2178.6 441.9H2161.6M319.0 351.5H336.0M2178.6 351.5H2161.6M319.0 277.7H336.0M2178.6 277.7H2161.6M319.0 215.2H336.0M2178.6 215.2H2161.6M319.0 161.1H336.0M2178.6 161.1H2161.6M319.0 113.4H336.0M2178.6 113.4H2161.6" stroke-width="6"/>
</g>
<g id="ylabels" class="tk">
<text x="155.9 195.7" y="90.0" class="tk">10<tspan font-size="46" x="239.4" dy="-24.9">0</tspan></text>
<text x="155.9 195.7" y="1024.1" class="tk">10<tspan font-size="46" x="239.4" dy="-24.4">-1</tspan></text>
<text x="156.5 196.3" y="1958.2" class="tk">10<tspan font-size="46" x="240.0" dy="-23.8">-2</tspan></text>
</g>
<g id="xlabels">
<text x="262.3 302.1" y="2038.5" class="tk">10<tspan font-size="46" x="345.8" dy="-24.9">1</tspan></text>
<text x="1191.6 1231.4" y="2038.5" class="tk">10<tspan font-size="46" x="1275.1" dy="-24.9">2</tspan></text>
<text x="2125.1 2164.9" y="2038.5" class="tk">10<tspan font-size="46" x="2208.6" dy="-24.9">3</tspan></text>
</g>
<g id="footmask" fill="#fff">
<rect x="159.97" y="83.12" width="14.64" height="8.28"/><rect x="182.13" y="83.12" width="14.05" height="8.28"/><rect x="159.97" y="1017.22" width="14.64" height="8.28"/><rect x="182.13" y="1017.22" width="14.05" height="8.28"/><rect x="256.62" y="995.06" width="9.30" height="6.04"/><rect x="270.79" y="995.06" width="8.94" height="6.04"/><rect x="160.57" y="1951.32" width="14.64" height="8.28"/><rect x="182.73" y="1951.32" width="14.05" height="8.28"/><rect x="266.37" y="2031.62" width="14.64" height="8.28"/><rect x="288.53" y="2031.62" width="14.05" height="8.28"/><rect x="347.70" y="2008.96" width="9.30" height="6.04"/><rect x="361.87" y="2008.96" width="8.94" height="6.04"/><rect x="1195.67" y="2031.62" width="14.64" height="8.28"/><rect x="1217.83" y="2031.62" width="14.05" height="8.28"/><rect x="2129.17" y="2031.62" width="14.64" height="8.28"/><rect x="2151.33" y="2031.62" width="14.05" height="8.28"/><rect x="1822.94" y="304.49" width="10.19" height="6.41"/><rect x="1838.43" y="304.49" width="9.79" height="6.41"/><rect x="1822.94" y="385.99" width="10.19" height="6.41"/><rect x="1838.43" y="385.99" width="9.79" height="6.41"/><rect x="1824.14" y="467.49" width="10.19" height="6.41"/><rect x="1839.63" y="467.49" width="9.79" height="6.41"/>
</g>
<text x="942 1001.5 1046.8 1093 1141.2 1166.2 1189.5" y="2185" class="ttl">Shear Rate <tspan class="serif">(1/</tspan>s<tspan class="serif">)</tspan></text>
<text transform="translate(90.5 1465) rotate(-90)" x="0" y="0" class="ttl">Apparent viscosity (Pa.s)</text>
</g>
</svg>
</body></html>
